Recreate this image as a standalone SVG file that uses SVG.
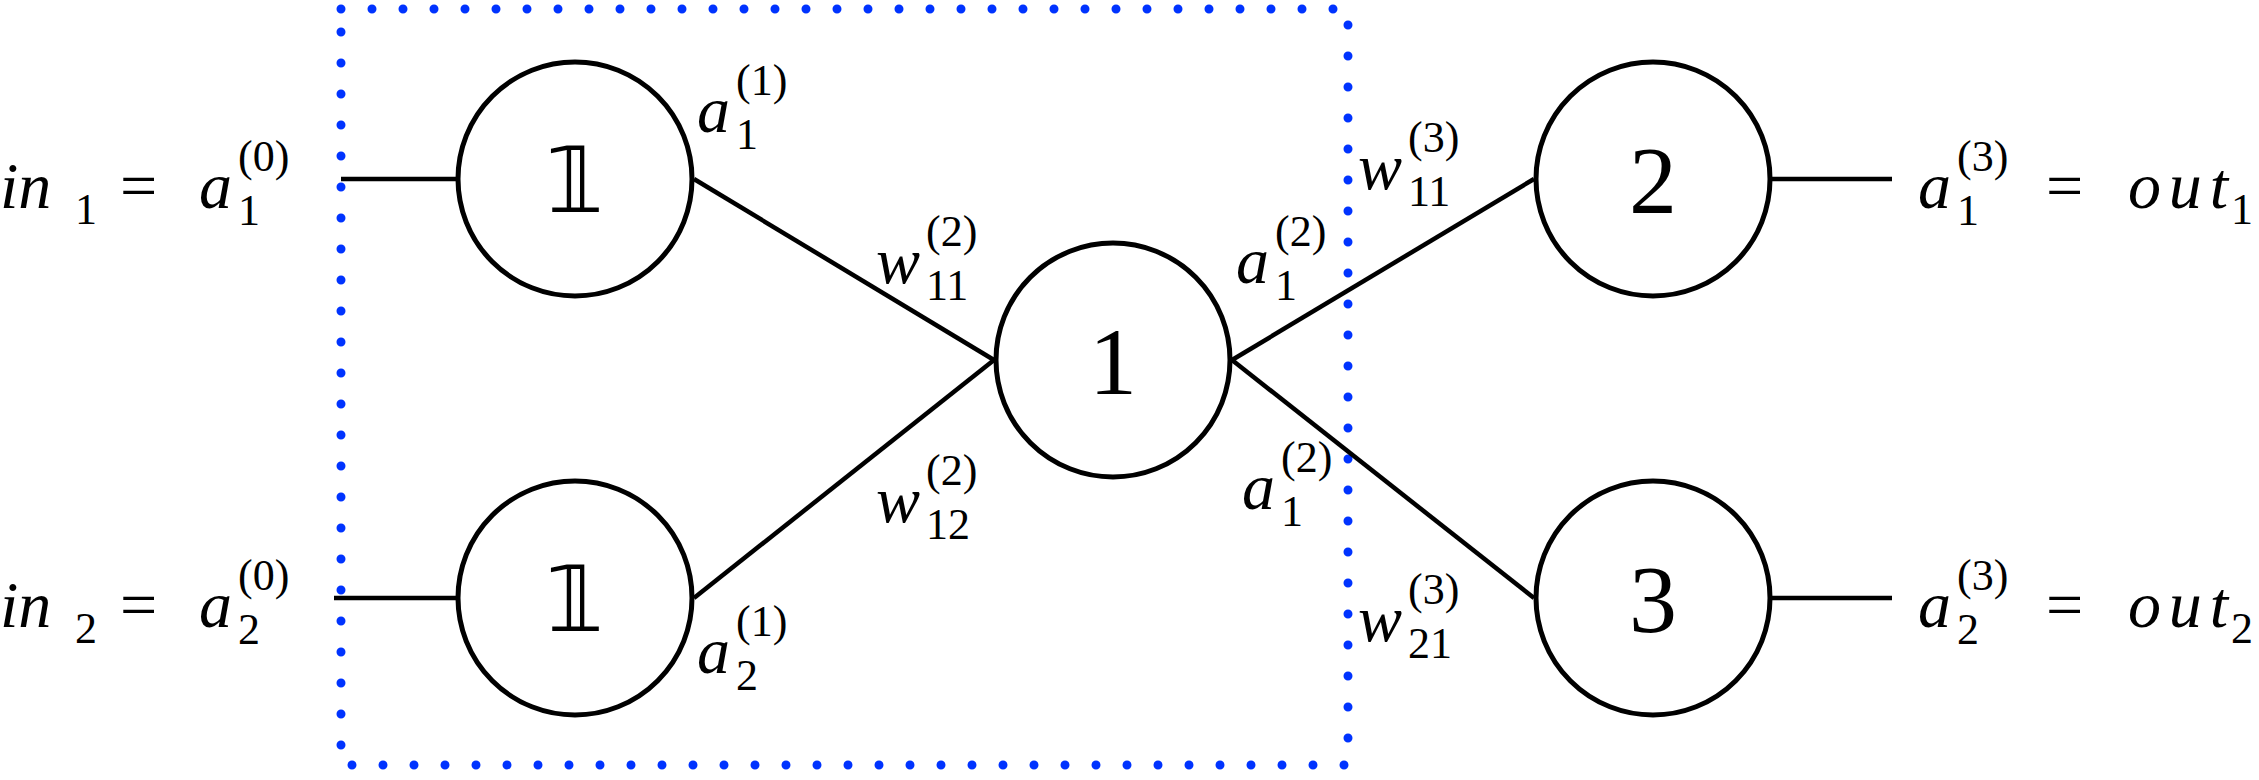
<svg xmlns="http://www.w3.org/2000/svg" width="2259" height="780" viewBox="0 0 2259 780">
<style>
.n{fill:#fff;stroke:#000;stroke-width:5}
.e{stroke:#000;stroke-width:4.5;fill:none}
.m{font-family:"Liberation Serif",serif;font-style:italic;font-size:66px}
.s{font-family:"Liberation Serif",serif;font-size:44px}
.si{font-family:"Liberation Serif",serif;font-style:italic;font-size:44px}
.r{font-family:"Liberation Serif",serif;font-size:66px}
.num{font-family:"Liberation Serif",serif;font-size:96px;text-anchor:middle}
.bb{font-family:"DejaVu Sans","DejaVu Serif",serif;font-size:90px;text-anchor:middle}
</style>
<rect x="341" y="9" width="1007" height="756" fill="none" stroke="#0033ff" stroke-width="9" stroke-linecap="round" stroke-dasharray="0 31"/>
<g id="connectors">
<line class="e" x1="341" y1="179" x2="456" y2="179"/>
<line class="e" x1="334" y1="598" x2="456" y2="598"/>
<line class="e" x1="694" y1="179" x2="994" y2="360"/>
<line class="e" x1="694" y1="598" x2="994" y2="360"/>
<line class="e" x1="1232" y1="360" x2="1534" y2="179"/>
<line class="e" x1="1232" y1="360" x2="1534" y2="598"/>
<line class="e" x1="1772" y1="179" x2="1892" y2="179"/>
<line class="e" x1="1772" y1="598" x2="1892" y2="598"/>
</g>
<g id="in1"><circle class="n" cx="575" cy="179" r="117"/><text class="bb" x="575" y="212">𝟙</text></g>
<g id="in2"><circle class="n" cx="575" cy="598" r="117"/><text class="bb" x="575" y="631">𝟙</text></g>
<g id="hid"><circle class="n" cx="1113" cy="360" r="117"/><text class="num" x="1113" y="394">1</text></g>
<g id="out1"><circle class="n" cx="1653" cy="179" r="117"/><text class="num" x="1653" y="213">2</text></g>
<g id="out2"><circle class="n" cx="1653" cy="598" r="117"/><text class="num" x="1653" y="632">3</text></g>
<g id="labels">
<text class="m" x="0" y="208">in</text><text class="s" x="75" y="224">1</text><text class="r" x="120" y="208">=</text>
<text class="m" x="199" y="208">a</text><text class="s" x="238" y="225">1</text><text class="s" x="238" y="171">(0)</text>
<text class="m" x="0" y="627">in</text><text class="s" x="75" y="643">2</text><text class="r" x="120" y="627">=</text>
<text class="m" x="199" y="627">a</text><text class="s" x="238" y="644">2</text><text class="s" x="238" y="590">(0)</text>
<text class="m" x="697" y="132">a</text><text class="s" x="736" y="149">1</text><text class="s" x="736" y="95">(1)</text>
<text class="m" x="697" y="673">a</text><text class="s" x="736" y="690">2</text><text class="s" x="736" y="636">(1)</text>
<text class="m" x="876" y="283">w</text><text class="s" x="926" y="300">11</text><text class="s" x="926" y="246">(2)</text>
<text class="m" x="876" y="522">w</text><text class="s" x="926" y="539">12</text><text class="s" x="926" y="485">(2)</text>
<text class="m" x="1236" y="283">a</text><text class="s" x="1275" y="300">1</text><text class="s" x="1275" y="246">(2)</text>
<text class="m" x="1242" y="509">a</text><text class="s" x="1281" y="526">1</text><text class="s" x="1281" y="472">(2)</text>
<text class="m" x="1358" y="189">w</text><text class="s" x="1408" y="206">11</text><text class="s" x="1408" y="152">(3)</text>
<text class="m" x="1358" y="641">w</text><text class="s" x="1408" y="658">21</text><text class="s" x="1408" y="604">(3)</text>
<text class="m" x="1918" y="208">a</text><text class="s" x="1957" y="225">1</text><text class="s" x="1957" y="171">(3)</text>
<text class="r" x="2046" y="208">=</text><text class="m" x="2128" y="208" textLength="100">out</text><text class="s" x="2231" y="224">1</text>
<text class="m" x="1918" y="627">a</text><text class="s" x="1957" y="644">2</text><text class="s" x="1957" y="590">(3)</text>
<text class="r" x="2046" y="627">=</text><text class="m" x="2128" y="627" textLength="100">out</text><text class="s" x="2231" y="643">2</text>
</g>
</svg>
